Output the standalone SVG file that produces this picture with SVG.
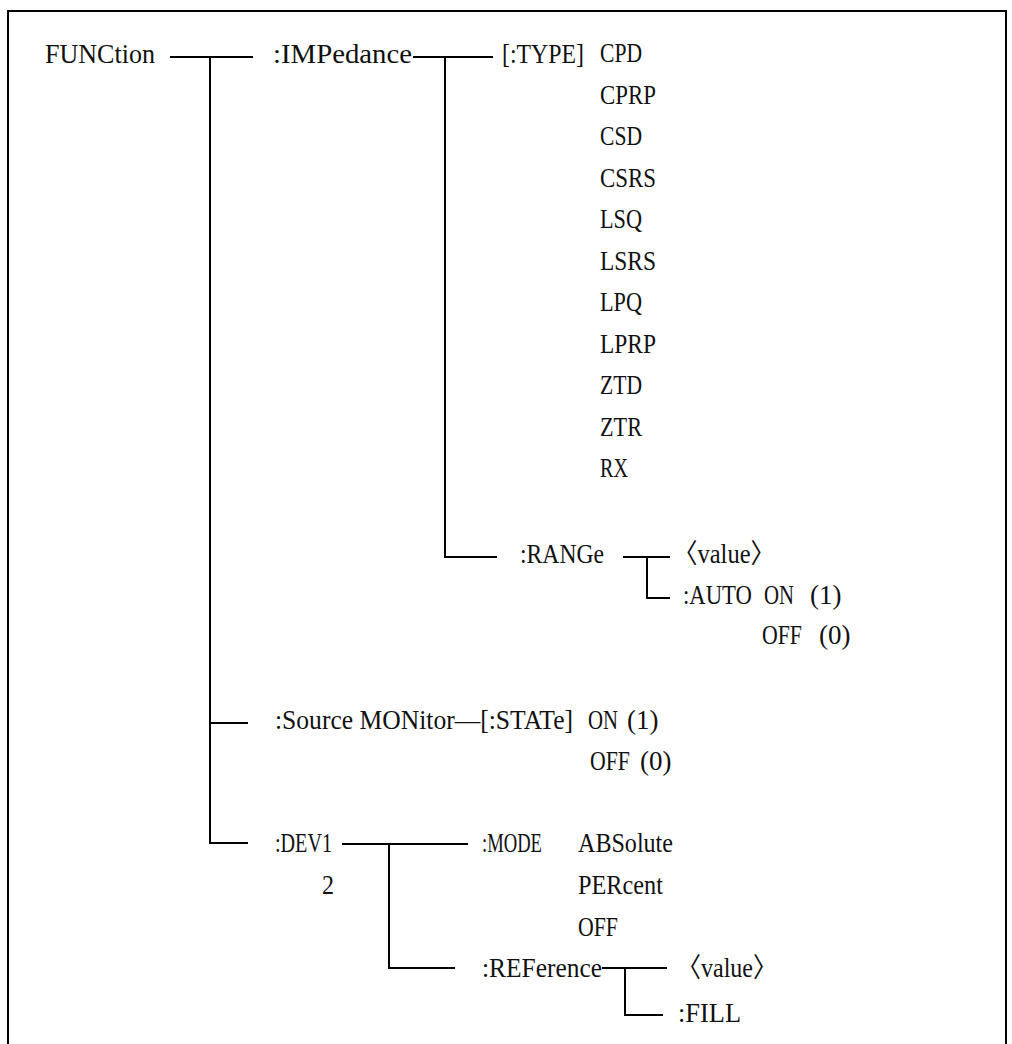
<svg xmlns="http://www.w3.org/2000/svg" width="1012" height="1044" viewBox="0 0 1012 1044">
<style>
text{font-family:"Liberation Serif","Noto Sans CJK SC",serif;font-size:27px;fill:#111}
.c line{stroke:#000;stroke-width:2}
.frame{fill:none;stroke:#000;stroke-width:2}
</style>
<rect width="1012" height="1044" fill="#fff"/>
<rect class="frame" x="8" y="11" width="998" height="1100"/>
<g class="c" id="connectors">
<line x1="170" y1="57" x2="253" y2="57"/>
<line x1="210" y1="57" x2="210" y2="844"/>
<line x1="413" y1="57" x2="493" y2="57"/>
<line x1="445" y1="57" x2="445" y2="558"/>
<line x1="444" y1="557" x2="497" y2="557"/>
<line x1="623" y1="557" x2="670" y2="557"/>
<line x1="647" y1="557" x2="647" y2="599"/>
<line x1="646" y1="598" x2="670" y2="598"/>
<line x1="209" y1="723" x2="248" y2="723"/>
<line x1="209" y1="843" x2="248" y2="843"/>
<line x1="342" y1="844" x2="468" y2="844"/>
<line x1="389" y1="844" x2="389" y2="969"/>
<line x1="388" y1="968" x2="455" y2="968"/>
<line x1="602" y1="968" x2="667" y2="968"/>
<line x1="625" y1="968" x2="625" y2="1016"/>
<line x1="624" y1="1015" x2="663" y2="1015"/>
</g>
<g id="n-function"><text x="45" y="63" textLength="110" lengthAdjust="spacingAndGlyphs">FUNCtion</text></g>
<g id="n-impedance"><text x="273" y="63" textLength="139" lengthAdjust="spacingAndGlyphs">:IMPedance</text></g>
<g id="n-type">
<text x="502" y="63" textLength="82" lengthAdjust="spacingAndGlyphs">[:TYPE]</text>
<text x="600" y="62" textLength="42" lengthAdjust="spacingAndGlyphs">CPD</text>
<text x="600" y="103.5" textLength="56" lengthAdjust="spacingAndGlyphs">CPRP</text>
<text x="600" y="145" textLength="42" lengthAdjust="spacingAndGlyphs">CSD</text>
<text x="600" y="186.5" textLength="56" lengthAdjust="spacingAndGlyphs">CSRS</text>
<text x="600" y="228" textLength="42" lengthAdjust="spacingAndGlyphs">LSQ</text>
<text x="600" y="269.5" textLength="56" lengthAdjust="spacingAndGlyphs">LSRS</text>
<text x="600" y="311" textLength="42" lengthAdjust="spacingAndGlyphs">LPQ</text>
<text x="600" y="352.5" textLength="56" lengthAdjust="spacingAndGlyphs">LPRP</text>
<text x="600" y="394" textLength="42" lengthAdjust="spacingAndGlyphs">ZTD</text>
<text x="600" y="435.5" textLength="42" lengthAdjust="spacingAndGlyphs">ZTR</text>
<text x="600" y="477" textLength="28" lengthAdjust="spacingAndGlyphs">RX</text>
</g>
<g id="n-range"><text x="520" y="563" textLength="84" lengthAdjust="spacingAndGlyphs">:RANGe</text></g>
<g id="n-range-value"><text x="673" y="563" textLength="102" lengthAdjust="spacingAndGlyphs">〈value〉</text></g>
<g id="n-range-auto">
<text x="683" y="604" textLength="69" lengthAdjust="spacingAndGlyphs">:AUTO</text>
<text x="764" y="604" textLength="30" lengthAdjust="spacingAndGlyphs">ON</text>
<text x="810" y="604">(1)</text>
<text x="762" y="644" textLength="40" lengthAdjust="spacingAndGlyphs">OFF</text>
<text x="819" y="644">(0)</text>
</g>
<g id="n-source"><text x="275" y="729" textLength="298" lengthAdjust="spacingAndGlyphs">:Source MONitor—[:STATe]</text></g>
<g id="n-state">
<text x="588" y="729" textLength="30" lengthAdjust="spacingAndGlyphs">ON</text>
<text x="627" y="729">(1)</text>
<text x="590" y="770" textLength="40" lengthAdjust="spacingAndGlyphs">OFF</text>
<text x="640" y="770">(0)</text>
</g>
<g id="n-dev">
<text x="275" y="852" textLength="57" lengthAdjust="spacingAndGlyphs">:DEV1</text>
<text x="322" y="894" textLength="12" lengthAdjust="spacingAndGlyphs">2</text>
</g>
<g id="n-mode">
<text x="482" y="852" textLength="60" lengthAdjust="spacingAndGlyphs">:MODE</text>
<text x="578" y="852" textLength="95" lengthAdjust="spacingAndGlyphs">ABSolute</text>
<text x="578" y="894" textLength="85" lengthAdjust="spacingAndGlyphs">PERcent</text>
<text x="578" y="936" textLength="40" lengthAdjust="spacingAndGlyphs">OFF</text>
</g>
<g id="n-reference"><text x="482" y="977" textLength="120" lengthAdjust="spacingAndGlyphs">:REFerence</text></g>
<g id="n-ref-value"><text x="677" y="977" textLength="100" lengthAdjust="spacingAndGlyphs">〈value〉</text></g>
<g id="n-ref-fill"><text x="678" y="1022" textLength="63" lengthAdjust="spacingAndGlyphs">:FILL</text></g>
</svg>
